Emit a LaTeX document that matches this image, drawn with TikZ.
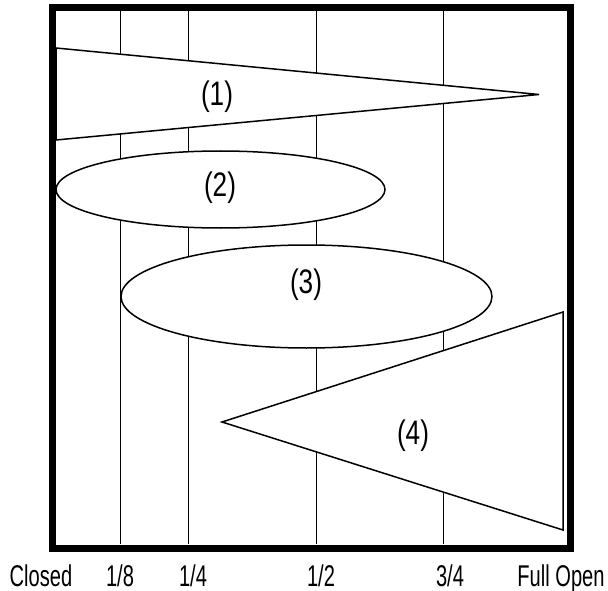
\documentclass[tikz,border=0pt]{standalone}
\usepackage{fontspec}
\setmainfont{Liberation Sans}
\newfontfamily\axisfont{Liberation Sans}[FakeStretch=0.67]
\newfontfamily\labfont{Liberation Sans}[FakeStretch=0.77]
\begin{document}
\begin{tikzpicture}[x=1pt,y=-1pt,
  frame/.style={line width=7pt},
  gridline/.style={line width=1pt},
  outl/.style={draw, fill=white, line width=1.5pt, line join=miter},
  lbl/.style={font=\labfont\fontsize{34}{36}\selectfont, inner sep=0pt},
  axl/.style={font=\axisfont\fontsize{30}{32}\selectfont, inner sep=0pt, anchor=base, text depth=0pt}]
\useasboundingbox (0,0) rectangle (608,591);
% grid lines
\foreach \x/\n in {120/a,188/b,316/c,443/d}{
  \coordinate (t\n) at (\x,11);
  \coordinate (b\n) at (\x,544);
  \draw[gridline] (t\n) -- (b\n);
}
% shapes
\draw[outl] (56,48) -- (539,94.5) -- (56,140) -- cycle;
\draw[outl] (220.5,189.5) ellipse [x radius=164.5, y radius=38.5];
\draw[outl] (306.5,296.5) ellipse [x radius=185.5, y radius=51.5];
\draw[outl] (222,422) -- (563,312) -- (563,530) -- cycle;
% frame
\draw[frame] (52,8) rectangle (570,548);
% shape labels
\node[lbl] (l1) at (217,96.5) {(1)};
\node[lbl] (l2) at (220,188) {(2)};
\node[lbl] (l3) at (306,285) {(3)};
\node[lbl] (l4) at (413,436) {(4)};
% axis labels
\node[axl] (closed) at (41,586) {Closed};
\node[axl] (e1) at (120,586) {1/8};
\node[axl] (e2) at (193,586) {1/4};
\node[axl] (e4) at (321,586) {1/2};
\node[axl] (e6) at (450,586) {3/4};
\node[axl] (open) at (561,586) {Full Open};
\end{tikzpicture}
\end{document}
